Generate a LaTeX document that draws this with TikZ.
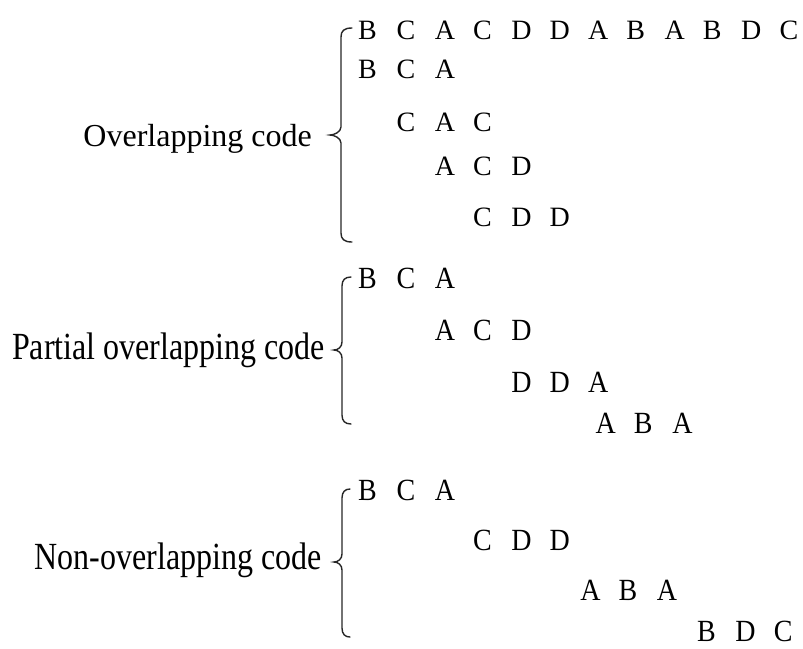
\documentclass[tikz,border=0pt]{standalone}
\usepackage{fontspec}
\usepackage{graphicx}
\setmainfont{Liberation Serif}
\newcommand\coderow[5]{%
  \foreach \c [count=\k from 0] in {#4} {
    \node[letter] (#1-\k) at ({358+38.3*(#2+\k)}, #3) {\scalebox{1}[#5]{\c}};
  }}
\newcommand\bracedraw[6]{% #1 line x, #2 top y, #3 bottom y, #4 tip y, #5 tip x, #6 end x
  \draw[bracepath] (#6,#2) .. controls ({#1+3},#2) and (#1,{#2+3}) .. (#1,{#2+9})
    -- (#1,{#4-8}) .. controls (#1,{#4-3}) and ({#5+4},#4) .. (#5,#4)
    .. controls ({#5+4},#4) and (#1,{#4+3}) .. (#1,{#4+8})
    -- (#1,{#3-9}) .. controls (#1,{#3-3}) and ({#1+3},#3) .. (#6,#3);}
\begin{document}
\begin{tikzpicture}[x=1pt,y=-1pt,
  letter/.style={font=\fontsize{28}{32}\selectfont, inner sep=0pt, anchor=base west},
  lab/.style={font=\fontsize{32}{38}\selectfont, inner sep=0pt, anchor=base east},
  bracepath/.style={line width=1.4pt, line cap=round, black!85}]
\useasboundingbox (0,0) rectangle (803,648);
% Overlapping code
\node[lab] (lab1) at (312,146) {Overlapping code};
\bracedraw{341}{28}{242}{135}{330}{352}
\coderow{s}{0}{39}{B,C,A,C,D,D,A,B,A,B,D,C}{1}
\coderow{o1}{0}{78}{B,C,A}{1}
\coderow{o2}{1}{131}{C,A,C}{1}
\coderow{o3}{2}{175}{A,C,D}{1}
\coderow{o4}{3}{226}{C,D,D}{1}
% Partial overlapping code
\node[lab] (lab2) at (325,359) {\scalebox{1}[1.2]{Partial overlapping code}};
\bracedraw{342}{277}{424}{350}{334}{351}
\coderow{p1}{0}{288}{B,C,A}{1.1}
\coderow{p2}{2}{340}{A,C,D}{1.1}
\coderow{p3}{4}{392}{D,D,A}{1.1}
\coderow{p4}{6.2}{433}{A,B,A}{1.1}
% Non-overlapping code
\node[lab] (lab3) at (322,569) {\scalebox{1}[1.2]{Non-overlapping code}};
\bracedraw{342}{489}{637}{562}{334}{350}
\coderow{n1}{0}{500}{B,C,A}{1.1}
\coderow{n2}{3}{550}{C,D,D}{1.1}
\coderow{n3}{5.8}{600}{A,B,A}{1.1}
\coderow{n4}{8.85}{641}{B,D,C}{1.1}
\end{tikzpicture}
\end{document}
